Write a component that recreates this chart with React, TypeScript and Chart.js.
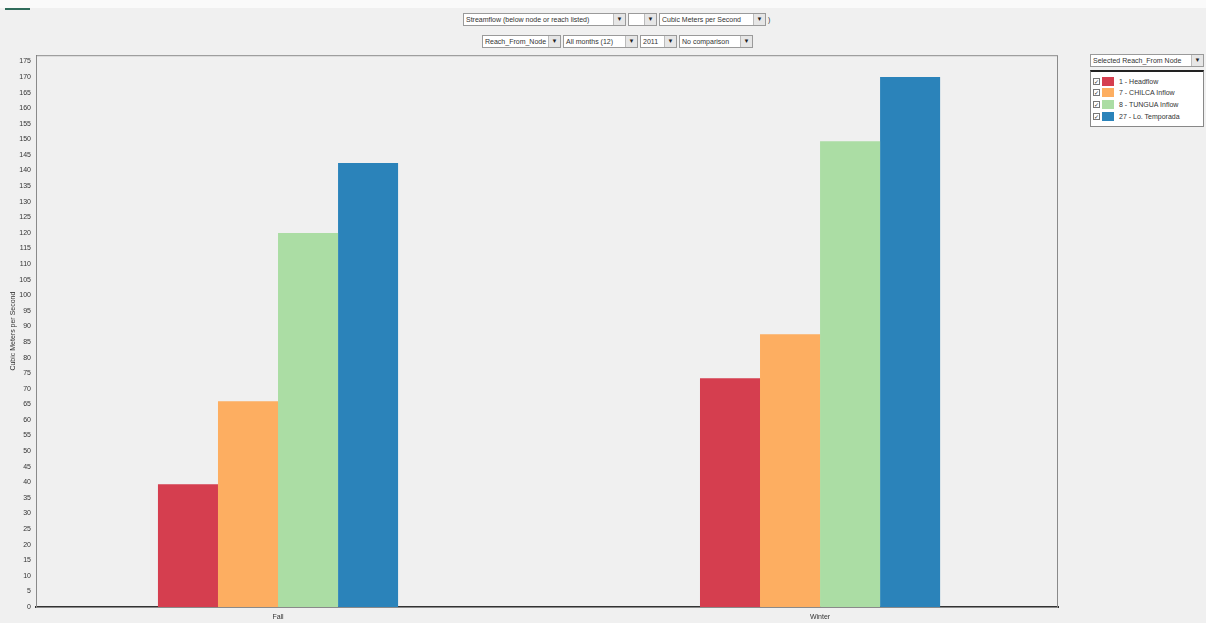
import React, { useEffect, useRef } from "react";
import { Chart, registerables } from "chart.js";

Chart.register(...registerables);

const categories = ["Fall", "Winter"];
const seriesNames = ["1 - Headflow", "7 - CHILCA Inflow", "8 - TUNGUA Inflow", "27 - Lo. Temporada"];
const headflow = [39.4, 73.4];
const chilcaInflow = [66, 87.5];
const tunguaInflow = [120, 149.4];
const temporada = [142.4, 170];
const seriesColors = ["#d53e4f", "#fdae61", "#abdda4", "#2b83ba"];
const yMax = 177;
const yStep = 5;

const topRow1 = ["Streamflow (below node or reach listed)", "", "Cubic Meters per Second"];
const topRow2 = ["Reach_From_Node", "All months (12)", "2011", "No comparison"];

const font = "'Liberation Sans', 'DejaVu Sans', sans-serif";

function Drop({ left, top, width, text }: { left: number; top: number; width: number; text: string }) {
  return (
    <div
      style={{
        position: "absolute",
        left,
        top,
        width,
        height: 13,
        boxSizing: "border-box",
        border: "1px solid #9a9a9a",
        background: "#fff",
        fontFamily: font,
        fontSize: 7,
        lineHeight: "11px",
        color: "#333",
        paddingLeft: 2,
        overflow: "hidden",
        whiteSpace: "nowrap",
      }}
    >
      {text}
      <div
        style={{
          position: "absolute",
          right: 0,
          top: 0,
          width: 11,
          height: 11,
          background: "#e6e6e6",
          borderLeft: "1px solid #bbb",
          fontSize: 6,
          lineHeight: "11px",
          textAlign: "center",
          color: "#222",
        }}
      >
        ▼
      </div>
    </div>
  );
}

export default function App() {
  const ref = useRef<HTMLCanvasElement | null>(null);

  useEffect(() => {
    if (!ref.current) return;
    const all = [headflow, chilcaInflow, tunguaInflow, temporada];
    const framePlugin = {
      id: "frame",
      beforeDatasetsDraw(chart: any) {
        const { ctx, chartArea: a } = chart;
        ctx.save();
        ctx.strokeStyle = "#8a8a8a";
        ctx.lineWidth = 1;
        ctx.strokeRect(a.left + 0.5, a.top + 0.5, a.right - a.left - 1, a.bottom - a.top);
        ctx.restore();
      },
    };
    const chart = new Chart(ref.current, {
      type: "bar",
      data: {
        datasets: all.map((vals, k) => ({
          label: seriesNames[k],
          data: vals.map((v, i) => ({ x: i, y: v })),
          backgroundColor: seriesColors[k],
          borderWidth: 0,
          barPercentage: 1,
          categoryPercentage: 0.443,
        })),
      },
      options: {
        animation: false,
        responsive: false,
        maintainAspectRatio: false,
        layout: { padding: { top: 2, right: 4, left: 0, bottom: 0 } },
        plugins: { legend: { display: false }, tooltip: { enabled: false } },
        scales: {
          x: {
            type: "linear",
            offset: false,
            min: -0.4465,
            max: 1.439,
            grid: { display: false, offset: false, drawTicks: false },
            border: { display: true, color: "#333", width: 2 },
            ticks: {
              stepSize: 1,
              includeBounds: false,
              autoSkip: false,
              maxRotation: 0,
              padding: 6,
              color: "#333",
              font: { size: 7, family: font },
              callback: (v: any) => categories[Number(v)] ?? "",
            },
            afterFit: (s: any) => {
              s.height = 16;
            },
          },
          y: {
            min: 0,
            max: yMax,
            grid: { display: false, drawTicks: false },
            border: { display: true, color: "#555", width: 1 },
            title: {
              display: true,
              text: "Cubic Meters per Second",
              color: "#333",
              font: { size: 7, family: font },
              padding: { top: 9, bottom: 0 },
            },
            ticks: {
              stepSize: yStep,
              includeBounds: false,
              autoSkip: false,
              padding: 5,
              color: "#333",
              font: { size: 7, family: font },
            },
            afterFit: (s: any) => {
              s.width = 36;
            },
          },
        },
      },
      plugins: [framePlugin],
    } as any);
    return () => chart.destroy();
  }, []);

  return (
    <div
      style={{
        position: "fixed",
        left: 0,
        top: 0,
        width: 1206,
        height: 623,
        background: "#f0f0f0",
        overflow: "hidden",
      }}
    >
      <div style={{ position: "absolute", left: 0, top: 0, width: 1206, height: 8, background: "#fafafa" }} />
      <div style={{ position: "absolute", left: 5, top: 8, width: 25, height: 2, background: "#2f6b5a" }} />
      <Drop left={463} top={13} width={163} text={topRow1[0]} />
      <Drop left={628} top={13} width={29} text={topRow1[1]} />
      <Drop left={659} top={13} width={107} text={topRow1[2]} />
      <div style={{ position: "absolute", left: 768, top: 13, fontFamily: font, fontSize: 7, lineHeight: "13px", color: "#333" }}>
        )
      </div>
      <Drop left={482} top={35} width={79} text={topRow2[0]} />
      <Drop left={563} top={35} width={75} text={topRow2[1]} />
      <Drop left={640} top={35} width={37} text={topRow2[2]} />
      <Drop left={679} top={35} width={74} text={topRow2[3]} />

      <canvas
        ref={ref}
        width={1062}
        height={577}
        style={{ position: "absolute", left: 0, top: 46, width: 1062, height: 577 }}
      />

      <Drop left={1090} top={54} width={114} text="Selected Reach_From Node" />
      <div
        style={{
          position: "absolute",
          left: 1090,
          top: 70,
          width: 114,
          height: 57,
          boxSizing: "border-box",
          border: "1px solid #888",
          borderTopWidth: 2,
          borderTopColor: "#222",
          background: "#fff",
        }}
      >
        {seriesNames.map((n, k) => (
          <div
            key={n}
            style={{
              position: "absolute",
              left: 2,
              top: 4 + k * 11.7,
              height: 10,
              display: "flex",
              alignItems: "center",
              fontFamily: font,
              fontSize: 7,
              color: "#333",
              whiteSpace: "nowrap",
            }}
          >
            <div
              style={{
                width: 7,
                height: 7,
                border: "1px solid #777",
                boxSizing: "border-box",
                fontSize: 6,
                lineHeight: "6px",
                textAlign: "center",
                marginRight: 2,
              }}
            >
              ✓
            </div>
            <div style={{ width: 12, height: 9, background: seriesColors[k], marginRight: 5 }} />
            <span>{n}</span>
          </div>
        ))}
      </div>
    </div>
  );
}
